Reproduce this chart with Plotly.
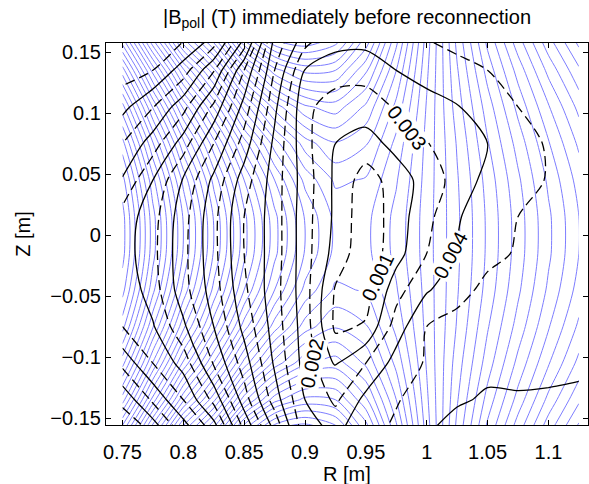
import numpy as np
import plotly.graph_objects as go

# ---------------- data ----------------
R_grid = [0.75, 0.775, 0.8, 0.825, 0.85, 0.875, 0.9, 0.925, 0.95, 0.975,
          1.0, 1.025, 1.05, 1.075, 1.1, 1.125]
Z_grid = [-0.165, -0.135, -0.105, -0.075, -0.045, -0.015,
          0.015, 0.045, 0.075, 0.105, 0.135, 0.165]

# poloidal flux (arbitrary units, one unit per drawn blue surface)
psi = [
    [-16.0, -8.7, -1.8, 2.9, 9.6, 13.6, 14.4, 12.8, 8.7, 3.1, -2.9, -7.9, -12.0, -15.4, -18.5, -21.2],
    [-21.0, -14.1, -7.7, -2.8, 3.1, 7.1, 8.8, 8.5, 5.7, 1.5, -3.3, -7.4, -10.9, -13.9, -16.8, -19.3],
    [-24.9, -18.4, -12.3, -7.4, -2.1, 1.9, 4.3, 5.0, 3.3, 0.2, -3.6, -7.0, -10.0, -12.8, -15.4, -17.8],
    [-27.9, -21.6, -15.8, -10.9, -6.0, -2.0, 1.0, 2.4, 1.6, -0.8, -3.8, -6.6, -9.4, -11.9, -14.4, -16.7],
    [-29.9, -23.8, -18.2, -13.2, -8.5, -4.5, -1.2, 0.7, 0.4, -1.4, -3.9, -6.4, -8.9, -11.3, -13.7, -15.9],
    [-30.9, -24.9, -19.4, -14.4, -9.8, -5.8, -2.4, -0.2, -0.2, -1.8, -4.0, -6.3, -8.7, -11.0, -13.3, -15.5],
    [-30.9, -24.9, -19.4, -14.4, -9.8, -5.8, -2.4, -0.2, -0.2, -1.8, -4.0, -6.3, -8.7, -11.0, -13.3, -15.5],
    [-29.9, -23.8, -18.2, -13.2, -8.5, -4.5, -1.2, 0.7, 0.4, -1.4, -3.9, -6.4, -8.9, -11.3, -13.7, -15.9],
    [-27.9, -21.6, -15.8, -10.9, -6.0, -2.0, 1.0, 2.4, 1.6, -0.8, -3.8, -6.6, -9.4, -11.9, -14.4, -16.7],
    [-24.9, -18.4, -12.3, -7.4, -2.1, 1.9, 4.3, 5.0, 3.3, 0.2, -3.6, -7.0, -10.0, -12.8, -15.4, -17.8],
    [-21.0, -14.1, -7.7, -2.8, 3.1, 7.1, 8.8, 8.5, 5.7, 1.5, -3.3, -7.4, -10.9, -13.9, -16.8, -19.3],
    [-16.0, -8.7, -1.8, 2.9, 9.6, 13.6, 14.4, 12.8, 8.7, 3.1, -2.9, -7.9, -12.0, -15.4, -18.5, -21.2],
]

# |B_pol| in mT (contours every 1 mT: odd levels dashed, even levels solid)
bpol_mT = [
    [19.75, 19.1, 16.9, 15.0, 11.2, 8.2, 4.55, 3.9, 4.6, 5.3, 6.0, 6.4, 6.5, 6.5, 6.5, 6.5],
    [18.8, 16.8, 15.0, 12.7, 9.5, 6.5, 4.0, 2.8, 4.3, 4.9, 5.6, 5.9, 6.1, 6.05, 6.05, 6.1],
    [16.7, 15.0, 13.6, 10.9, 8.5, 5.85, 3.6, 1.9, 3.0, 4.4, 5.1, 5.6, 5.8, 5.85, 5.9, 5.9],
    [15.0, 14.1, 12.2, 10.0, 7.7, 5.55, 3.5, 0.8, 1.1, 3.5, 5.0, 5.4, 5.6, 5.6, 5.7, 5.7],
    [14.8, 13.5, 11.4, 9.5, 7.2, 5.4, 3.4, 0.9, 0.6, 2.6, 3.9, 4.6, 5.3, 5.5, 5.6, 5.6],
    [14.5, 13.3, 11.3, 9.3, 7.0, 5.5, 3.4, 1.6, 0.3, 1.6, 3.0, 4.05, 4.7, 5.1, 5.4, 5.5],
    [14.6, 13.4, 11.4, 9.3, 7.0, 5.5, 3.4, 1.8, 0.3, 1.5, 2.7, 3.9, 4.6, 5.0, 5.3, 5.5],
    [15.9, 14.0, 11.9, 9.75, 7.5, 5.5, 3.5, 1.8, 0.5, 1.5, 2.4, 3.4, 4.3, 4.7, 5.05, 5.3],
    [17.0, 15.5, 13.5, 11.0, 8.55, 5.75, 3.3, 2.0, 1.6, 2.3, 2.95, 3.5, 4.0, 4.6, 5.1, 5.3],
    [18.3, 17.05, 15.35, 12.75, 9.6, 6.25, 3.2, 2.6, 2.5, 3.1, 3.6, 3.95, 4.4, 5.0, 5.3, 5.4],
    [19.5, 19.0, 17.5, 15.1, 11.0, 7.0, 3.95, 3.4, 3.4, 4.0, 4.4, 4.7, 5.0, 5.25, 5.4, 5.5],
    [19.8, 19.8, 19.4, 18.1, 14.4, 7.95, 5.7, 4.6, 4.5, 4.7, 5.1, 5.4, 5.55, 5.7, 5.8, 5.9],
]

label_text = ["0.001", "0.002", "0.003", "0.004"]
label_R = [0.9595, 0.906, 0.984, 1.0195]
label_Z = [-0.034, -0.105, 0.088, -0.016]
label_angle = [-65, -78, 52, -62]

x_ticks = [0.75, 0.8, 0.85, 0.9, 0.95, 1.0, 1.05, 1.1]
x_ticktext = ["0.75", "0.8", "0.85", "0.9", "0.95", "1", "1.05", "1.1"]
y_ticks = [-0.15, -0.1, -0.05, 0.0, 0.05, 0.1, 0.15]
y_ticktext = ["\u22120.15", "\u22120.1", "\u22120.05", "0", "0.05", "0.1", "0.15"]

# ---------------- figure ----------------
FONT = "Liberation Sans, Arial, Helvetica, sans-serif"
bpol_T = np.array(bpol_mT) / 1000.0

fig = go.Figure()
fig.add_trace(go.Contour(
    x=R_grid, y=Z_grid, z=psi,
    contours=dict(start=-40.5, end=20.5, size=1, coloring="none"),
    line=dict(color="rgb(125,125,255)", width=1, smoothing=0.8),
    showscale=False, hoverinfo="skip"))
fig.add_trace(go.Contour(
    x=R_grid, y=Z_grid, z=bpol_T,
    contours=dict(start=0.001, end=0.021, size=0.002, coloring="none"),
    line=dict(color="black", width=1.3, dash="10px,5px", smoothing=0.8),
    showscale=False, hoverinfo="skip"))
fig.add_trace(go.Contour(
    x=R_grid, y=Z_grid, z=bpol_T,
    contours=dict(start=0.002, end=0.020, size=0.002, coloring="none"),
    line=dict(color="black", width=1.3, smoothing=0.8),
    showscale=False, hoverinfo="skip"))

for t, r, z, a in zip(label_text, label_R, label_Z, label_angle):
    fig.add_annotation(x=r, y=z, text=t, textangle=a, showarrow=False,
                       font=dict(family=FONT, size=20, color="black"),
                       bgcolor="white", borderpad=0)

# x-axis title placed explicitly (plot area spans pixels 43..425 vertically)
fig.add_annotation(text="R [m]", xref="paper", yref="paper",
                   x=0.5, y=(425 - 474) / 382, xanchor="center", yanchor="middle",
                   showarrow=False, font=dict(family=FONT, size=20, color="black"))

axis_common = dict(showline=True, linecolor="black", linewidth=1.2, mirror="ticks",
                   ticks="inside", ticklen=5, tickcolor="black", showgrid=False,
                   zeroline=False, tickfont=dict(family=FONT, size=20, color="black"))
fig.update_xaxes(range=[0.7365, 1.1325], tickvals=x_ticks, ticktext=x_ticktext,
                 ticklabelstandoff=9, **axis_common)
fig.update_yaxes(range=[-0.1557, 0.1574], tickvals=y_ticks, ticktext=y_ticktext,
                 title=dict(text="Z [m]", font=dict(family=FONT, size=20, color="black"),
                            standoff=14),
                 **axis_common)
fig.update_layout(
    width=589, height=484,
    margin=dict(l=106, r=1, t=43, b=59),
    paper_bgcolor="white", plot_bgcolor="white",
    showlegend=False,
    title=dict(text="|B<sub>pol</sub>| (T) immediately before reconnection",
               x=347 / 589, xanchor="center", y=1 - 17 / 484, yanchor="middle",
               font=dict(family=FONT, size=20, color="black")),
)
fig.write_html("out.html")
